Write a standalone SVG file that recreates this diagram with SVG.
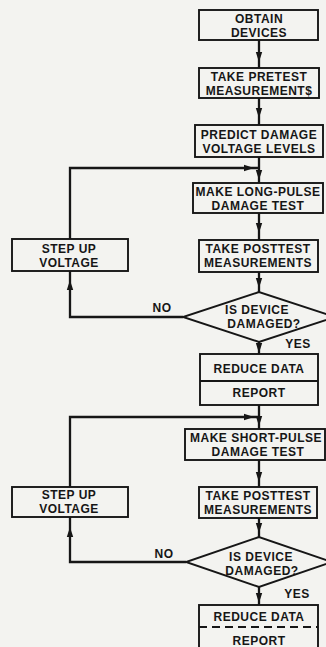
<svg xmlns="http://www.w3.org/2000/svg" width="326" height="647" viewBox="0 0 326 647">
<style>
.bx{fill:none;stroke:#161616;stroke-width:1.9}
.ln{fill:none;stroke:#161616;stroke-width:2.3}
.t{font-family:"Liberation Sans",Arial,sans-serif;font-weight:bold;font-size:12px;letter-spacing:0.5px;fill:#161616;text-anchor:middle}
</style>
<defs>
<path id="ah" d="M0,0 L-10,-3.2 L-10,3.2 Z" fill="#161616"/>
</defs>
<rect width="326" height="647" fill="#f3f3f0"/>
<g id="connectors">
<path class="ln" d="M259,40 V68"/>
<path class="ln" d="M259,98 V125"/>
<path class="ln" d="M259,157 V183"/>
<path class="ln" d="M70,239 V168 H259"/>
<path class="ln" d="M259,213 V240"/>
<path class="ln" d="M259,272 V292"/>
<path class="ln" d="M183,317 H70 V271"/>
<path class="ln" d="M259,342 V354"/>
<path class="ln" d="M259,405 V429"/>
<path class="ln" d="M70,487 V417 H259"/>
<path class="ln" d="M259,460 V487"/>
<path class="ln" d="M259,518 V537"/>
<path class="ln" d="M186,562 H70 V517"/>
<path class="ln" d="M259,587 V605"/>
<use href="#ah" transform="translate(259,62) rotate(90)"/>
<use href="#ah" transform="translate(259,118) rotate(90)"/>
<use href="#ah" transform="translate(259,180) rotate(90)"/>
<use href="#ah" transform="translate(254,168)"/>
<use href="#ah" transform="translate(259,233) rotate(90)"/>
<use href="#ah" transform="translate(259,288) rotate(90)"/>
<use href="#ah" transform="translate(70,280) rotate(-90)"/>
<use href="#ah" transform="translate(259,353) rotate(90)"/>
<use href="#ah" transform="translate(259,426) rotate(90)"/>
<use href="#ah" transform="translate(254,417)"/>
<use href="#ah" transform="translate(259,482) rotate(90)"/>
<use href="#ah" transform="translate(259,533) rotate(90)"/>
<use href="#ah" transform="translate(70,527) rotate(-90)"/>
<use href="#ah" transform="translate(259,603) rotate(90)"/>
</g>
<g id="obtain">
<rect class="bx" x="199" y="10" width="119" height="30"/>
<text class="t" x="259" y="23">OBTAIN</text>
<text class="t" x="259" y="37">DEVICES</text>
</g>
<g id="pretest">
<rect class="bx" x="199" y="68" width="120" height="30"/>
<text class="t" x="259" y="81">TAKE PRETEST</text>
<text class="t" x="259" y="95">MEASUREMENT$</text>
</g>
<g id="predict">
<rect class="bx" x="195" y="125" width="128" height="32"/>
<text class="t" x="259" y="139">PREDICT DAMAGE</text>
<text class="t" x="259" y="153">VOLTAGE LEVELS</text>
</g>
<g id="longpulse">
<rect class="bx" x="193" y="183" width="130" height="30"/>
<text class="t" x="258" y="196">MAKE LONG-PULSE</text>
<text class="t" x="258" y="210">DAMAGE TEST</text>
</g>
<g id="posttest1">
<rect class="bx" x="199" y="240" width="119" height="32"/>
<text class="t" x="258" y="253">TAKE POSTTEST</text>
<text class="t" x="258" y="267">MEASUREMENTS</text>
</g>
<g id="stepup1">
<rect class="bx" x="12" y="239" width="116" height="32"/>
<text class="t" x="69" y="253">STEP UP</text>
<text class="t" x="69" y="267">VOLTAGE</text>
</g>
<g id="damaged1">
<path class="bx" d="M259,292 L183,317 L259,342 L335,317 Z"/>
<text class="t" x="257" y="314">IS DEVICE</text>
<text class="t" x="264" y="328">DAMAGED?</text>
<text class="t" x="162" y="312">NO</text>
<text class="t" x="298" y="348">YES</text>
</g>
<g id="reduce1">
<rect class="bx" x="200" y="354" width="118" height="51"/>
<line class="bx" x1="200" y1="381" x2="318" y2="381"/>
<text class="t" x="259" y="373">REDUCE DATA</text>
<text class="t" x="259" y="397">REPORT</text>
</g>
<g id="shortpulse">
<rect class="bx" x="185" y="429" width="140" height="31"/>
<text class="t" x="256" y="442">MAKE SHORT-PULSE</text>
<text class="t" x="258" y="456">DAMAGE TEST</text>
</g>
<g id="posttest2">
<rect class="bx" x="199" y="487" width="118" height="31"/>
<text class="t" x="258" y="500">TAKE POSTTEST</text>
<text class="t" x="258" y="514">MEASUREMENTS</text>
</g>
<g id="stepup2">
<rect class="bx" x="12" y="487" width="116" height="30"/>
<text class="t" x="69" y="499">STEP UP</text>
<text class="t" x="69" y="513">VOLTAGE</text>
</g>
<g id="damaged2">
<path class="bx" d="M259,537 L186,562 L259,587 L332,562 Z"/>
<text class="t" x="261" y="561">IS DEVICE</text>
<text class="t" x="262" y="575">DAMAGED?</text>
<text class="t" x="164" y="558">NO</text>
<text class="t" x="297" y="598">YES</text>
</g>
<g id="reduce2">
<rect class="bx" x="199" y="605" width="119" height="60"/>
<line class="bx" x1="199" y1="627" x2="318" y2="627" stroke-dasharray="8,5"/>
<text class="t" x="259" y="621">REDUCE DATA</text>
<text class="t" x="259" y="645">REPORT</text>
</g>
</svg>
